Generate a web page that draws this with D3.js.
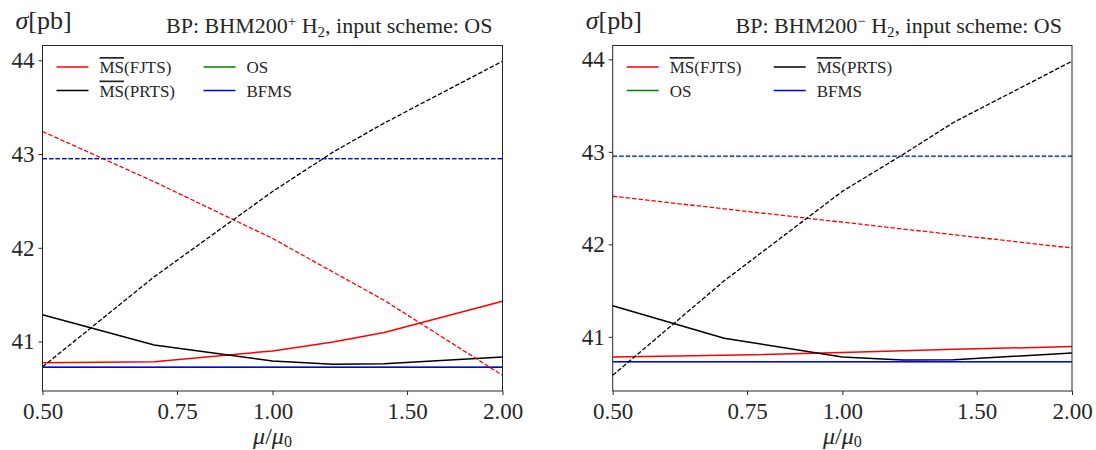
<!DOCTYPE html>
<html><head><meta charset="utf-8">
<script src="https://cdn.jsdelivr.net/npm/d3@7"></script>
<style>
body{margin:0;background:#fff}
svg{display:block}
svg text{font-family:"Liberation Serif","DejaVu Serif",serif !important;fill:#262626}
</style>
</head><body><svg id="c" width="1096" height="450"></svg>
<script>
// ---------------- data ----------------
const MU = [0.5, 0.7, 1.0, 1.2, 1.4, 2.0];
const X_TICKS = [0.5, 0.75, 1.0, 1.5, 2.0];
const X_TICK_LABELS = ["0.50", "0.75", "1.00", "1.50", "2.00"];
const Y_TICKS = [41, 42, 43, 44];

// left panel: BHM200+
const L_FJTS_SOLID = [40.774, 40.785, 40.900, 40.996, 41.096, 41.430];
const L_PRTS_SOLID = [41.285, 40.964, 40.792, 40.757, 40.763, 40.835];
const L_OS_SOLID   = [40.727, 40.727, 40.727, 40.727, 40.727, 40.727];
const L_BFMS_SOLID = [40.727, 40.727, 40.727, 40.727, 40.727, 40.727];
const L_FJTS_DASH  = [43.240, 42.705, 42.100, 41.742, 41.440, 40.640];
const L_PRTS_DASH  = [40.730, 41.690, 42.600, 43.020, 43.330, 43.990];
const L_OS_DASH    = [42.952, 42.952, 42.952, 42.952, 42.952, 42.952];
const L_BFMS_DASH  = [42.952, 42.952, 42.952, 42.952, 42.952, 42.952];

// right panel: BHM200-
const R_FJTS_SOLID = [40.782, 40.800, 40.830, 40.850, 40.865, 40.894];
const R_PRTS_SOLID = [41.335, 40.985, 40.781, 40.750, 40.752, 40.826];
const R_OS_SOLID   = [40.731, 40.731, 40.731, 40.731, 40.731, 40.731];
const R_BFMS_SOLID = [40.731, 40.731, 40.731, 40.731, 40.731, 40.731];
const R_FJTS_DASH  = [42.520, 42.384, 42.240, 42.166, 42.104, 41.960];
const R_PRTS_DASH  = [40.584, 41.605, 42.573, 42.970, 43.320, 43.980];
const R_OS_DASH    = [42.947, 42.947, 42.947, 42.947, 42.947, 42.947];
const R_BFMS_DASH  = [42.953, 42.953, 42.953, 42.953, 42.953, 42.953];

const TITLES = ["BP: BHM200", "BP: BHM200"];
const TITLE_SIGNS = ["+", "\u2212"];
const COLORS = {FJTS: "#ff0000", PRTS: "#000000", OS: "#008000", BFMS: "#0000ff"};
const LEGEND_LEFT  = ["FJTS", "PRTS", "OS", "BFMS"];
const LEGEND_RIGHT = ["FJTS", "OS", "PRTS", "BFMS"];

// ---------------- layout ----------------
const svg = d3.select("#c");
const FONT = '"Liberation Serif","DejaVu Serif",serif';
const panels = [
  {x0: 42.5, x1: 502.5, top: 45.5, bottom: 391, sign: TITLE_SIGNS[0], title: TITLES[0], legend: LEGEND_LEFT,
   dashOrder: ["FJTS", "PRTS", "OS", "BFMS"],
   series: {FJTS: [L_FJTS_SOLID, L_FJTS_DASH], PRTS: [L_PRTS_SOLID, L_PRTS_DASH], OS: [L_OS_SOLID, L_OS_DASH], BFMS: [L_BFMS_SOLID, L_BFMS_DASH]}},
  {x0: 612.7, x1: 1072, top: 45.5, bottom: 391, sign: TITLE_SIGNS[1], title: TITLES[1], legend: LEGEND_RIGHT,
   dashOrder: ["FJTS", "PRTS", "BFMS", "OS"],
   series: {FJTS: [R_FJTS_SOLID, R_FJTS_DASH], PRTS: [R_PRTS_SOLID, R_PRTS_DASH], OS: [R_OS_SOLID, R_OS_DASH], BFMS: [R_BFMS_SOLID, R_BFMS_DASH]}}
];

function legendLabel(sel, key) {
  if (key === "FJTS" || key === "PRTS") {
    sel.append("tspan").style("text-decoration", "overline").text("MS");
    sel.append("tspan").text("(" + key + ")");
  } else sel.text(key);
}

panels.forEach((p, pi) => {
  const g = svg.append("g").style("font-family", FONT);
  const x = d3.scaleLog().base(2).domain([0.5, 2.0]).range([p.x0, p.x1]);
  const all = [].concat(...Object.values(p.series).map(s => s[0].concat(s[1])));
  const [mn, mx] = d3.extent(all);
  const pad = (mx - mn) * 0.05;
  const y = d3.scaleLinear().domain([mn - pad, mx + pad]).range([p.bottom, p.top]);

  const clipId = "clip" + Math.round(p.x0);
  svg.append("clipPath").attr("id", clipId).append("rect")
    .attr("x", p.x0).attr("y", p.top).attr("width", p.x1 - p.x0).attr("height", p.bottom - p.top);

  const line = d3.line().x((d, i) => x(MU[i])).y(d => y(d));
  const lines = g.append("g").attr("clip-path", `url(#${clipId})`);
  ["FJTS", "PRTS", "OS", "BFMS"].forEach(k => {
    lines.append("path").attr("d", line(p.series[k][0])).attr("fill", "none")
      .attr("stroke", COLORS[k]).attr("stroke-width", k === "OS" ? 1.0 : 1.5);
  });
  p.dashOrder.forEach(k => {
    const faint = (pi === 1 && k === "OS");
    lines.append("path").attr("d", line(p.series[k][1])).attr("fill", "none")
      .attr("stroke", COLORS[k]).attr("stroke-width", faint ? 0.9 : 1.3)
      .attr("stroke-opacity", faint ? 0.55 : 1)
      .attr("stroke-dasharray", "4.5,2");
  });

  // axes
  const xa = g.append("g").attr("transform", `translate(0,${p.bottom})`)
    .call(d3.axisBottom(x).tickValues(X_TICKS).tickFormat((d, i) => X_TICK_LABELS[i]).tickSize(4).tickPadding(7.5));
  const ya = g.append("g").attr("transform", `translate(${p.x0},0)`)
    .call(d3.axisLeft(y).tickValues(Y_TICKS).tickFormat(d3.format("d")).tickSize(4).tickPadding(4));
  [xa, ya].forEach(a => {
    a.attr("font-family", FONT).attr("font-size", 23);
    a.select(".domain").remove();
    a.selectAll("line").attr("stroke", "#262626").attr("stroke-width", 1);
    a.selectAll("text").style("font-family", FONT).style("font-size", "23px").attr("fill", "#262626");
  });
  g.append("rect").attr("x", p.x0).attr("y", p.top).attr("width", p.x1 - p.x0).attr("height", p.bottom - p.top)
    .attr("fill", "none").attr("stroke", "#262626").attr("stroke-width", 1);

  // x label
  const xl = g.append("text").attr("x", (p.x0 + p.x1) / 2).attr("y", 444).attr("text-anchor", "middle")
    .style("font-size", "24px");
  xl.append("tspan").style("font-style", "italic").text("\u03bc");
  xl.append("tspan").text("/");
  xl.append("tspan").style("font-style", "italic").text("\u03bc");
  xl.append("tspan").attr("dy", 3).style("font-size", "16px").text("0");

  // sigma label
  const sl = g.append("text").attr("x", p.x0 - 27).attr("y", 29).style("font-size", "26px");
  sl.append("tspan").style("font-style", "italic").text("\u03c3");
  sl.append("tspan").text("[pb]");

  // title
  const t = g.append("text").attr("x", p.x1 - 10).attr("y", 32.5).attr("text-anchor", "end").style("font-size", "22px");
  t.append("tspan").text(p.title);
  t.append("tspan").attr("dy", -7).style("font-size", "15px").text(p.sign);
  t.append("tspan").attr("dy", 7).text(" H");
  t.append("tspan").attr("dy", 4).style("font-size", "15px").text("2");
  t.append("tspan").attr("dy", -4).text(", input scheme: OS");

  // legend
  const lg = g.append("g");
  p.legend.forEach((k, i) => {
    const col = Math.floor(i / 2), row = i % 2;
    const lx = p.x0 + (col === 0 ? 14 : 161);
    const ly = 67 + row * 23.5;
    lg.append("line").attr("x1", lx).attr("x2", lx + 32).attr("y1", ly).attr("y2", ly)
      .attr("stroke", COLORS[k]).attr("stroke-width", 1.5);
    const tx = lg.append("text").attr("x", lx + 43).attr("y", ly + 6).style("font-size", "17px");
    legendLabel(tx, k);
  });
});
</script>
</body></html>
